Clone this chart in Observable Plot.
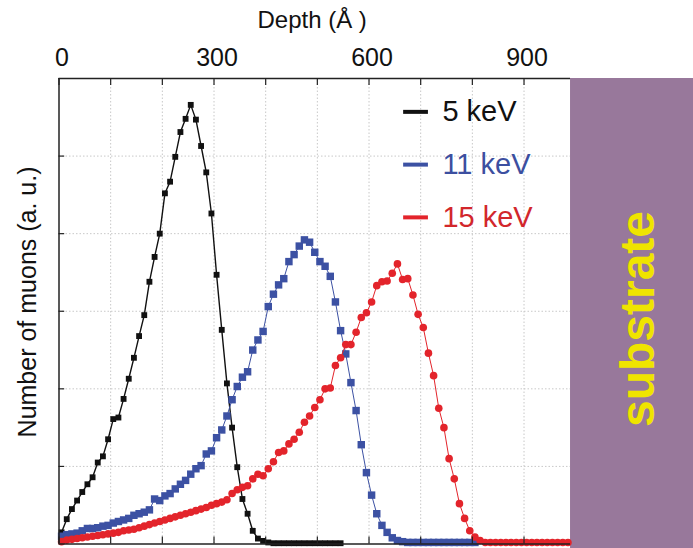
<!DOCTYPE html>
<html>
<head>
<meta charset="utf-8">
<script src="https://cdn.jsdelivr.net/npm/d3@7"></script>
<script src="https://cdn.jsdelivr.net/npm/@observablehq/plot@0.6"></script>
<style>
  body { margin: 0; background: #fff; }
  #chart svg { font-family: "Liberation Sans", Arial, sans-serif; }
</style>
</head>
<body>
<div id="chart"></div>
<script>
// Implantation profiles of muons, one value per 10 Å depth bin (bin centres start at 5 Å)
const seriesNames = ["5 keV", "11 keV", "15 keV"];
const seriesColors = ["#111111", "#3c51a3", "#e3242b"];
const legendTextColors = ["#111111", "#3c4fa0", "#d2272c"];
const firstDepth = 5;
const depthStep = 10;

const muons5keV = [
  0.15, 0.32, 0.45, 0.56, 0.67, 0.77, 0.86, 1.05, 1.13, 1.35,
  1.61, 1.63, 1.87, 2.13, 2.40, 2.68, 2.95, 3.38, 3.70, 4.00,
  4.52, 4.67, 4.99, 5.31, 5.48, 5.66, 5.47, 5.13, 4.79, 4.26,
  3.47, 2.76, 2.07, 1.50, 0.99, 0.58, 0.39, 0.17, 0.07, 0.04,
  0.02, 0.01, 0.01, 0.01, 0.01, 0.01, 0.01, 0.01, 0.01, 0.01,
  0.01, 0.01, 0.01, 0.01, 0.01
];

const muons11keV = [
  0.10, 0.12, 0.13, 0.14, 0.17, 0.20, 0.20, 0.21, 0.23, 0.24,
  0.27, 0.29, 0.31, 0.33, 0.37, 0.39, 0.41, 0.44, 0.58, 0.56,
  0.62, 0.65, 0.71, 0.77, 0.82, 0.90, 0.97, 1.01, 1.16, 1.20,
  1.37, 1.47, 1.65, 1.86, 2.03, 2.15, 2.22, 2.50, 2.63, 2.74,
  3.06, 3.22, 3.34, 3.42, 3.64, 3.73, 3.84, 3.92, 3.89, 3.76,
  3.64, 3.58, 3.45, 3.12, 2.75, 2.45, 2.08, 1.72, 1.28, 0.92,
  0.63, 0.39, 0.24, 0.15, 0.08, 0.045, 0.03, 0.02, 0.02, 0.02,
  0.02, 0.02, 0.02, 0.02, 0.02, 0.02, 0.02, 0.02, 0.02, 0.02,
  0.02
];

const muons15keV = [
  0.03, 0.05, 0.06, 0.07, 0.08, 0.09, 0.10, 0.11, 0.12, 0.13,
  0.14, 0.15, 0.17, 0.18, 0.19, 0.21, 0.23, 0.25, 0.27, 0.29,
  0.31, 0.33, 0.35, 0.37, 0.39, 0.41, 0.43, 0.45, 0.47, 0.50,
  0.52, 0.54, 0.57, 0.65, 0.70, 0.73, 0.75, 0.84, 0.90, 0.88,
  0.97, 1.06, 1.18, 1.20, 1.29, 1.35, 1.44, 1.57, 1.65, 1.76,
  1.86, 2.00, 2.01, 2.30, 2.40, 2.57, 2.57, 2.73, 2.92, 2.98,
  3.12, 3.33, 3.38, 3.39, 3.49, 3.61, 3.41, 3.42, 3.21, 2.96,
  2.79, 2.46, 2.17, 1.75, 1.50, 1.10, 0.84, 0.52, 0.33, 0.17,
  0.09, 0.045, 0.02, 0.02, 0.02, 0.02, 0.02, 0.02, 0.02, 0.02,
  0.02, 0.02, 0.02, 0.02, 0.02, 0.02, 0.02, 0.02, 0.02
];

const depthTicks = [0, 100, 200, 300, 400, 500, 600, 700, 800, 900];
const depthTickLabels = [0, 300, 600, 900];
const countTicks = [1, 2, 3, 4, 5];

const xTitle = "Depth (Å )";
const yTitle = "Number of muons (a. u.)";
const substrateLabel = "substrate";

// Layer geometry in depth units
const filmEnd = 990;
const xEdge = 1228;
const yTop = 6;

const seriesValues = [muons5keV, muons11keV, muons15keV];
const rows = seriesValues.flatMap((vals, s) =>
  vals.map((v, i) => ({ series: seriesNames[s], depth: firstDepth + i * depthStep, count: v }))
);

const markerStyle = [
  { symbol: "square", r: 3.3 },
  { symbol: "square", r: 4.2 },
  { symbol: "circle", r: 3.8 }
];
const lineWidths = [1.4, 1.0, 1.0];

const gridStyle = { stroke: "#c8c8c8", strokeWidth: 1, strokeDasharray: "1.5,2" };
const font = { fontFamily: "Liberation Sans, Arial, sans-serif" };

const legendRows = seriesNames.map((name, i) => ({
  name, color: seriesColors[i], textColor: legendTextColors[i], y: 5.57 - i * 0.68
}));

const marks = [
  // substrate layer
  Plot.rect([substrateLabel], { x1: filmEnd, x2: xEdge, y1: -0.06, y2: yTop, fill: "#98789b" }),
  Plot.text([substrateLabel], {
    x: 1122, y: 2.9, rotate: -90, text: d => d, fill: "#efe400",
    fontSize: 48, fontWeight: "bold", ...font
  }),

  // dotted grid
  Plot.ruleX(depthTicks.filter(d => d > 0), { y1: 0, y2: yTop, ...gridStyle }),
  Plot.ruleY(countTicks, { x1: 0, x2: filmEnd, ...gridStyle })
];

// profiles
seriesNames.forEach((name, s) => {
  const data = rows.filter(r => r.series === name);
  marks.push(
    Plot.line(data, { x: "depth", y: "count", stroke: seriesColors[s], strokeWidth: lineWidths[s] }),
    Plot.dot(data, {
      x: "depth", y: "count", fill: seriesColors[s], stroke: "none",
      symbol: markerStyle[s].symbol, r: markerStyle[s].r
    })
  );
});

marks.push(
  // frame
  Plot.ruleX([0], { y1: 0, y2: yTop, stroke: "#222", strokeWidth: 1.5 }),
  Plot.ruleY([0, yTop], { x1: 0, x2: filmEnd, stroke: "#222", strokeWidth: 1.5 }),

  // inward ticks
  Plot.ruleX(depthTicks, { y1: yTop, y2: yTop - 0.09, stroke: "#222", strokeWidth: 1.2 }),
  Plot.ruleX(depthTicks, { y1: 0, y2: 0.09, stroke: "#222", strokeWidth: 1.2 }),
  Plot.ruleY(countTicks, { x1: 0, x2: 11, stroke: "#222", strokeWidth: 1.2 }),

  // top axis labels and titles
  Plot.text(depthTickLabels, {
    x: d => d, y: yTop, dx: 3, dy: -21, text: d => String(d), fill: "#111", fontSize: 25, ...font
  }),
  Plot.text([xTitle], { x: 490, y: yTop, dy: -58, text: d => d, fill: "#111", fontSize: 24, ...font }),
  Plot.text([yTitle], { x: 0, y: 3.12, dx: -31, rotate: -90, text: d => d, fill: "#111", fontSize: 25, ...font }),

  // legend
  Plot.ruleY(legendRows, { x1: 667, x2: 715, y: "y", stroke: "color", strokeWidth: 4 }),
  Plot.text(legendRows, {
    x: 742, y: "y", text: "name", fill: "textColor", textAnchor: "start", fontSize: 29, ...font
  })
);

const chart = Plot.plot({
  width: 693,
  height: 548,
  marginLeft: 58.5,
  marginRight: 0,
  marginTop: 78,
  marginBottom: 4.5,
  x: { domain: [0, xEdge], axis: null },
  y: { domain: [0, yTop], axis: null },
  color: { type: "identity" },
  style: { background: "#fff", overflow: "visible" },
  marks
});

document.getElementById("chart").append(chart);
</script>
</body>
</html>
